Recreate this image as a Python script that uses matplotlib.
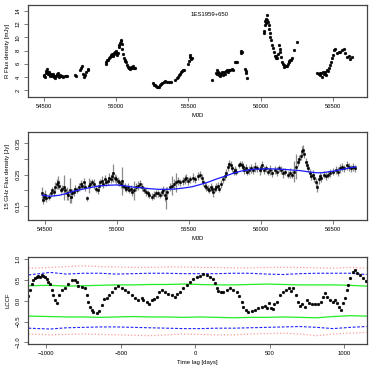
import numpy as np
import matplotlib
matplotlib.use("Agg")
import matplotlib.pyplot as plt

plt.rcParams['font.family'] = ['Liberation Sans', 'DejaVu Sans']

# ---- R band light curve (MJD, mJy)
r_mjd = [54495, 54500, 54505, 54510, 54515, 54518, 54522, 54526, 54530, 54535,
         54540, 54545, 54550, 54555, 54560, 54565, 54570, 54575, 54580, 54585,
         54590, 54595, 54600, 54605, 54612, 54618, 54625, 54632, 54640, 54650, 54660,
         54715, 54722, 54748, 54755, 54762, 54770, 54778, 54785, 54792, 54800, 54806,
         54925, 54930, 54935, 54940, 54948, 54955, 54960, 54965, 54970, 54975,
         54980, 54985, 54990, 54995, 55000, 55005, 55010, 55015, 55020, 55025,
         55030, 55035, 55038, 55042, 55048, 55052, 55058, 55062, 55068, 55072,
         55078, 55085, 55090, 55095, 55100, 55108, 55115, 55120, 55128,
         55252, 55258, 55265, 55272, 55280, 55288, 55295, 55302, 55310, 55318,
         55328, 55340, 55352, 55365, 55378,
         55410, 55418, 55425, 55432, 55440, 55448, 55455, 55462, 55470,
         55495, 55502, 55508, 55512, 55518, 55524,
         55662, 55690, 55695, 55700, 55705, 55710, 55715, 55720, 55725, 55730,
         55738, 55745, 55752, 55760, 55768, 55775, 55782, 55790, 55800, 55810,
         55825, 55832, 55840, 55862, 55866, 55870, 55893, 55897, 55900, 55903,
         56021, 56026, 56030, 56033, 56036, 56040, 56044, 56048, 56052, 56056,
         56060, 56063, 56067, 56072, 56079, 56084, 56091, 56097, 56104, 56109,
         56114, 56121, 56128, 56132, 56137, 56142, 56148, 56154, 56160, 56166,
         56172, 56178, 56183, 56189, 56195, 56200, 56206, 56212, 56218, 56229, 56253,
         56391, 56403, 56410, 56415, 56420, 56426, 56430, 56438, 56445, 56449,
         56456, 56460, 56466, 56473, 56479, 56489, 56496, 56503, 56512, 56519,
         56530, 56542, 56553, 56565, 56577, 56588, 56600, 56611, 56623, 56635]
r_flux = [4.1, 4.3, 4.0, 4.6, 4.9, 5.2, 4.8, 4.5, 4.7, 4.4,
          4.2, 4.5, 4.3, 4.1, 4.4, 4.0, 4.2, 3.8, 4.1, 4.4,
          4.3, 4.6, 4.2, 4.0, 4.3, 4.1, 4.2, 4.0, 4.1, 4.2, 4.1,
          4.3, 4.1, 5.0, 5.3, 5.7, 4.5, 4.0, 4.3, 4.8, 5.0, 5.2,
          5.9, 6.2, 6.6, 6.5, 6.9, 7.0, 7.3, 7.1, 7.5, 7.2,
          7.6, 7.4, 7.8, 8.0, 7.6, 7.3, 7.6, 8.5, 8.9, 9.2,
          9.5, 9.6, 9.0, 8.3, 7.5, 6.9, 6.6, 6.4, 6.2, 5.8,
          5.5, 5.3, 5.4, 5.2, 5.5, 5.3, 5.6, 5.3, 5.3,
          3.0, 2.8, 2.7, 2.6, 2.5, 2.4, 2.5, 2.7, 2.9, 3.1,
          3.2, 3.4, 3.3, 3.3, 3.2,
          3.6, 3.9, 4.0, 4.3, 4.5, 4.7, 4.9, 5.0, 5.1,
          6.0, 6.4, 7.3, 7.0, 6.7, 6.8,
          3.6, 4.6, 5.0, 4.4, 4.8, 4.3, 4.6, 4.1, 4.5, 4.8,
          4.3, 4.7, 4.5, 4.9, 5.0, 4.8, 5.1, 5.0, 5.2, 5.0,
          6.3, 6.2, 6.2, 7.6, 8.0, 7.8, 5.2, 4.6, 4.9, 3.9,
          10.7, 11.0, 11.8, 12.5, 12.8, 12.1, 13.4, 12.6, 12.3, 11.8,
          11.2, 10.6, 10.1, 9.6, 8.9, 8.4, 7.7, 7.1, 6.8, 7.2,
          6.9, 7.4, 8.9, 8.2, 7.7, 7.0, 6.3, 6.0, 5.8, 5.5,
          5.6, 5.7, 5.7, 6.0, 6.2, 6.4, 6.6, 6.5, 6.9, 8.1, 9.3,
          4.6, 4.4, 4.6, 4.3, 4.6, 4.0, 4.8, 4.4, 4.5, 4.8,
          4.3, 5.0, 4.9, 5.3, 5.8, 6.3, 6.8, 7.3, 8.1, 8.3,
          7.6, 7.8, 7.7, 8.1, 8.2, 7.6, 7.0, 7.2, 6.7, 7.0]

# ---- 15 GHz light curve (MJD, Jy, error)
radio_mjd = [54480, 54488, 54495, 54502, 54510, 54525, 54540, 54550, 54560, 54570,
             54580, 54590, 54600, 54610, 54620, 54630, 54640, 54650, 54660, 54670,
             54680, 54690, 54700, 54710, 54720, 54735, 54750, 54760, 54770, 54780,
             54795, 54805, 54815, 54825, 54840, 54855, 54865, 54875, 54885, 54895,
             54905, 54915, 54925, 54935, 54945, 54955, 54965, 54975, 54985, 54995,
             55005, 55015, 55025, 55035, 55045, 55055, 55065, 55075, 55085, 55095,
             55105, 55115, 55130, 55145, 55160, 55175, 55190, 55200, 55215, 55225,
             55240, 55255, 55270, 55285, 55300, 55310, 55320, 55330, 55340, 55350,
             55365, 55380, 55395, 55410, 55425, 55440, 55455, 55470, 55480, 55495,
             55510, 55525, 55540, 55560, 55575, 55590, 55600, 55610, 55620, 55630,
             55640, 55650, 55660, 55670, 55680, 55690, 55700, 55710, 55720, 55735,
             55750, 55760, 55770, 55780, 55790, 55800, 55810, 55820, 55830, 55845,
             55855, 55865, 55875, 55885, 55895, 55905, 55915, 55930, 55945, 55960,
             55975, 55990, 56000, 56010, 56020, 56035, 56050, 56065, 56080, 56095,
             56110, 56125, 56140, 56155, 56170, 56185, 56200, 56215, 56230, 56245,
             56255, 56265, 56275, 56285, 56292, 56300, 56310, 56320, 56330, 56340,
             56350, 56360, 56370, 56380, 56390, 56400, 56410, 56420, 56435, 56450,
             56465, 56480, 56500, 56520, 56535, 56550, 56565, 56580, 56595, 56610,
             56625, 56640, 56655]
radio_flux = [0.19, 0.17, 0.18, 0.185, 0.175, 0.18, 0.19, 0.2, 0.195, 0.21,
              0.22, 0.225, 0.215, 0.2, 0.205, 0.21, 0.2, 0.19, 0.185, 0.2,
              0.18, 0.19, 0.195, 0.205, 0.2, 0.21, 0.22, 0.215, 0.225, 0.21,
              0.175, 0.215, 0.22, 0.225, 0.22, 0.205, 0.2, 0.215, 0.225, 0.23,
              0.22, 0.235, 0.225, 0.23, 0.24, 0.235, 0.245, 0.255, 0.24, 0.235,
              0.23, 0.225, 0.22, 0.23, 0.215, 0.21, 0.205, 0.21, 0.2, 0.205,
              0.195, 0.2, 0.21, 0.215, 0.22, 0.21, 0.2, 0.195, 0.19, 0.185,
              0.18, 0.185, 0.19, 0.19, 0.185, 0.195, 0.2, 0.185, 0.175, 0.195,
              0.21, 0.215, 0.22, 0.225, 0.23, 0.225, 0.23, 0.235, 0.24, 0.23,
              0.235, 0.24, 0.235, 0.245, 0.25, 0.24, 0.225, 0.215, 0.21, 0.205,
              0.2, 0.21, 0.205, 0.195, 0.205, 0.21, 0.215, 0.205, 0.22, 0.235,
              0.245, 0.255, 0.275, 0.285, 0.28, 0.27, 0.26, 0.265, 0.26, 0.28,
              0.285, 0.28, 0.275, 0.265, 0.27, 0.26, 0.265, 0.27, 0.265, 0.275,
              0.27, 0.265, 0.27, 0.28, 0.265, 0.27, 0.26, 0.265, 0.255, 0.265,
              0.26, 0.27, 0.265, 0.255, 0.26, 0.25, 0.255, 0.25, 0.26, 0.275,
              0.29, 0.3, 0.31, 0.325, 0.33, 0.315, 0.29, 0.28, 0.27, 0.255,
              0.245, 0.25, 0.24, 0.225, 0.21, 0.235, 0.245, 0.24, 0.25, 0.245,
              0.25, 0.255, 0.26, 0.265, 0.26, 0.27, 0.275, 0.27, 0.28, 0.275,
              0.27, 0.275, 0.27]
radio_err = [0.02, 0.015, 0.012, 0.015, 0.012, 0.01, 0.012, 0.01, 0.012, 0.015,
             0.015, 0.02, 0.012, 0.01, 0.012, 0.04, 0.012, 0.02, 0.015, 0.04,
             0.02, 0.015, 0.012, 0.012, 0.01, 0.012, 0.012, 0.01, 0.015, 0.012,
             0.008, 0.025, 0.012, 0.012, 0.015, 0.012, 0.012, 0.015, 0.012, 0.015,
             0.012, 0.015, 0.012, 0.012, 0.015, 0.012, 0.015, 0.03, 0.012, 0.015,
             0.012, 0.012, 0.012, 0.045, 0.012, 0.012, 0.01, 0.012, 0.01, 0.012,
             0.012, 0.03, 0.012, 0.015, 0.012, 0.012, 0.01, 0.012, 0.012, 0.01,
             0.01, 0.012, 0.01, 0.012, 0.01, 0.012, 0.015, 0.02, 0.035, 0.015,
             0.012, 0.03, 0.015, 0.03, 0.012, 0.012, 0.012, 0.015, 0.012, 0.012,
             0.012, 0.015, 0.012, 0.012, 0.012, 0.012, 0.012, 0.01, 0.012, 0.012,
             0.01, 0.012, 0.012, 0.015, 0.012, 0.012, 0.012, 0.012, 0.012, 0.012,
             0.012, 0.012, 0.012, 0.012, 0.012, 0.01, 0.012, 0.012, 0.01, 0.008,
             0.008, 0.012, 0.012, 0.012, 0.015, 0.012, 0.012, 0.015, 0.012, 0.015,
             0.012, 0.015, 0.012, 0.012, 0.012, 0.012, 0.012, 0.015, 0.012, 0.012,
             0.015, 0.012, 0.012, 0.015, 0.012, 0.012, 0.015, 0.012, 0.035, 0.04,
             0.012, 0.012, 0.012, 0.015, 0.015, 0.012, 0.012, 0.012, 0.012, 0.012,
             0.012, 0.015, 0.012, 0.015, 0.015, 0.015, 0.012, 0.012, 0.012, 0.012,
             0.012, 0.012, 0.012, 0.012, 0.015, 0.015, 0.012, 0.012, 0.015, 0.012,
             0.012, 0.012, 0.012]

# smooth trend (blue)
trend_mjd = [54480, 54535, 54600, 54650, 54700, 54766, 54830, 54881, 54940, 54997,
             55060, 55113, 55170, 55228, 55290, 55344, 55400, 55459, 55520, 55575,
             55640, 55691, 55750, 55806, 55860, 55922, 55980, 56037, 56100, 56153,
             56210, 56269, 56330, 56384, 56420, 56454, 56500, 56569, 56620, 56660]
trend_flux = [0.184, 0.181, 0.184, 0.19, 0.197, 0.204, 0.21, 0.214, 0.216, 0.217,
              0.214, 0.21, 0.208, 0.205, 0.203, 0.203, 0.204, 0.207, 0.211, 0.218,
              0.227, 0.236, 0.245, 0.254, 0.261, 0.266, 0.268, 0.269, 0.268, 0.267,
              0.265, 0.263, 0.259, 0.256, 0.256, 0.258, 0.261, 0.267, 0.272, 0.275]

# ---- LCCF
lag = [-1121, -1110, -1098, -1087, -1076, -1065, -1054, -1043, -1031, -1020,
       -1009, -998, -987, -975, -964, -953, -942, -931, -913, -897,
       -875, -852, -830, -808, -796, -785, -763, -741, -729, -718,
       -707, -696, -685, -662, -644, -629, -613, -595, -577, -562,
       -539, -517, -494, -472, -450, -427, -405, -383, -360, -349,
       -327, -309, -293, -277, -260, -242, -226, -204, -181, -159,
       -137, -125, -103, -81, -58, -36, -13, 9, 31, 54,
       76, 98, 121, 132, 143, 154, 170, 188, 210, 232,
       255, 277, 295, 311, 322, 340, 356, 378, 400, 423,
       445, 468, 479, 497, 506, 519, 528, 546, 568, 591,
       608, 626, 640, 658, 676, 687, 702, 718, 734, 747,
       765, 781, 803, 825, 841, 855, 870, 886, 904, 922,
       937, 953, 966, 975, 989, 1004, 1016, 1027, 1038, 1056,
       1072, 1087, 1105, 1127, 1145]
lccf = [0.12, 0.26, 0.39, 0.50, 0.55, 0.58, 0.60, 0.57, 0.62, 0.60,
        0.58, 0.52, 0.46, 0.39, 0.26, 0.14, 0.02, -0.06, 0.14, 0.26,
        0.31, 0.39, 0.50, 0.50, 0.46, 0.36, 0.33, 0.31, 0.14, -0.02,
        -0.14, -0.22, -0.26, -0.30, -0.25, -0.10, 0.04, 0.07, 0.14, 0.22,
        0.30, 0.36, 0.31, 0.26, 0.20, 0.14, 0.06, 0.02, 0.06, 0.02,
        -0.04, -0.09, 0.02, 0.04, 0.10, 0.22, 0.26, 0.22, 0.15, 0.14,
        0.10, 0.15, 0.22, 0.30, 0.38, 0.46, 0.52, 0.56, 0.60, 0.63,
        0.62, 0.58, 0.51, 0.42, 0.30, 0.23, 0.22, 0.20, 0.26, 0.31,
        0.26, 0.20, 0.12, -0.02, -0.14, -0.22, -0.26, -0.25, -0.22, -0.18,
        -0.14, -0.12, -0.17, -0.06, -0.18, -0.20, -0.09, -0.02, 0.14, 0.22,
        0.26, 0.31, 0.23, 0.30, 0.14, -0.02, -0.12, -0.09, -0.14, 0.02,
        -0.06, -0.09, -0.09, -0.09, -0.02, 0.10, 0.18, 0.10, 0.02, -0.02,
        0.02, -0.06, -0.14, -0.22, -0.06, 0.06, 0.26, 0.38, 0.54, 0.68,
        0.74, 0.66, 0.62, 0.55, 0.47]

env_lag = [-1120, -975, -865, -750, -640, -530, -415, -305, -190, -80,
           30, 145, 255, 365, 480, 590, 700, 815, 925, 1040, 1150]
green_up = [0.36, 0.37, 0.35, 0.36, 0.37, 0.38, 0.38, 0.39, 0.39, 0.40,
            0.39, 0.38, 0.38, 0.39, 0.40, 0.39, 0.38, 0.38, 0.38, 0.37, 0.35]
green_lo = [-0.37, -0.38, -0.39, -0.39, -0.40, -0.39, -0.38, -0.39, -0.39, -0.40,
            -0.39, -0.40, -0.41, -0.40, -0.40, -0.39, -0.40, -0.41, -0.38, -0.36, -0.37]
blue_up = [0.62, 0.68, 0.64, 0.66, 0.66, 0.64, 0.65, 0.66, 0.66, 0.65,
           0.65, 0.65, 0.66, 0.66, 0.64, 0.63, 0.65, 0.66, 0.66, 0.66, 0.63]
blue_lo = [-0.66, -0.68, -0.65, -0.64, -0.63, -0.63, -0.64, -0.65, -0.66, -0.67,
           -0.67, -0.66, -0.66, -0.65, -0.64, -0.63, -0.62, -0.64, -0.67, -0.64, -0.62]
pink_up = [0.78, 0.80, 0.82, 0.84, 0.82, 0.81, 0.80, 0.80, 0.81, 0.81,
           0.80, 0.80, 0.79, 0.79, 0.80, 0.80, 0.80, 0.79, 0.78, 0.80, 0.78]
pink_lo = [-0.80, -0.82, -0.81, -0.80, -0.81, -0.82, -0.83, -0.84, -0.82, -0.80,
           -0.81, -0.82, -0.82, -0.80, -0.79, -0.78, -0.80, -0.84, -0.80, -0.78, -0.76]

FS_TICK = 4.2
FS_LAB = 4.3
frame_col = '#444444'


def style(ax):
    for s in ax.spines.values():
        s.set_color(frame_col)
        s.set_linewidth(0.9)
    ax.tick_params(axis='both', length=2.6, width=0.5, color=frame_col,
                   labelsize=FS_TICK, pad=2.5)
    for lab in ax.get_yticklabels():
        lab.set_rotation(90)
        lab.set_va('center')


fig = plt.figure(figsize=(3.74, 3.74), dpi=100)

# panel 1
ax1 = fig.add_axes([0.075, 0.7406, 0.906, 0.246])
ax1.plot(r_mjd, r_flux, 'o', color='black', ms=2.0, mec='black', mew=0.3)
ax1.set_xlim(54387, 56738)
ax1.set_ylim(0.95, 14.9)
ax1.set_xticks([54500, 55000, 55500, 56000, 56500])
ax1.set_yticks([2, 4, 6, 8, 10, 12, 14])
ax1.set_xlabel('MJD', fontsize=FS_LAB, labelpad=3)
ax1.set_ylabel('R Flux density [mJy]', fontsize=FS_LAB, labelpad=4)
ax1.text(0.537, 0.90, '1ES1959+650', transform=ax1.transAxes,
         ha='center', va='center', fontsize=FS_LAB)
style(ax1)

# panel 2
ax2 = fig.add_axes([0.075, 0.4118, 0.906, 0.235])
ax2.errorbar(radio_mjd, radio_flux, yerr=radio_err, fmt='none',
             ecolor='#8a8a8a', elinewidth=0.9, capsize=0)
ax2.plot(radio_mjd, radio_flux, 'o', color='black', ms=1.8, mew=0.3)
ax2.plot(trend_mjd, trend_flux, '-', color='#1a1aff', lw=0.9)
ax2.set_xlim(54382, 56736)
ax2.set_ylim(0.105, 0.386)
ax2.set_xticks([54500, 55000, 55500, 56000, 56500])
ax2.set_yticks([0.15, 0.20, 0.25, 0.30, 0.35])
ax2.set_yticklabels(['0.15', '', '0.25', '', '0.35'])
ax2.set_xlabel('MJD', fontsize=FS_LAB, labelpad=3)
ax2.set_ylabel('15 GHz Flux density [Jy]', fontsize=FS_LAB, labelpad=4)
style(ax2)

# panel 3
ax3 = fig.add_axes([0.075, 0.0802, 0.906, 0.2326])
ax3.plot(env_lag, pink_up, ':', color='#ff9a9a', lw=0.9)
ax3.plot(env_lag, pink_lo, ':', color='#ff9a9a', lw=0.9)
ax3.plot(env_lag, blue_up, '--', color='#2020ff', lw=0.8, dashes=(2.5, 1.5))
ax3.plot(env_lag, blue_lo, '--', color='#2020ff', lw=0.8, dashes=(2.5, 1.5))
ax3.plot(env_lag, green_up, '-', color='#22ee22', lw=0.9)
ax3.plot(env_lag, green_lo, '-', color='#22ee22', lw=0.9)
ax3.plot(lag, lccf, 'o', color='black', ms=2.0, mew=0.3)
ax3.set_xlim(-1123, 1152)
ax3.set_ylim(-1.04, 1.05)
ax3.set_xticks([-1000, -500, 0, 500, 1000])
ax3.set_xticklabels(['\u22121000', '\u2212500', '0', '500', '1000'])
ax3.set_yticks([-1.0, -0.5, 0.0, 0.5, 1.0])
ax3.set_yticklabels(['\u22121.0', '\u22120.5', '0.0', '0.5', '1.0'])
ax3.set_xlabel('Time lag [days]', fontsize=FS_LAB, labelpad=3)
ax3.set_ylabel('LCCF', fontsize=FS_LAB, labelpad=4)
style(ax3)

fig.savefig('out.png', dpi=100)
